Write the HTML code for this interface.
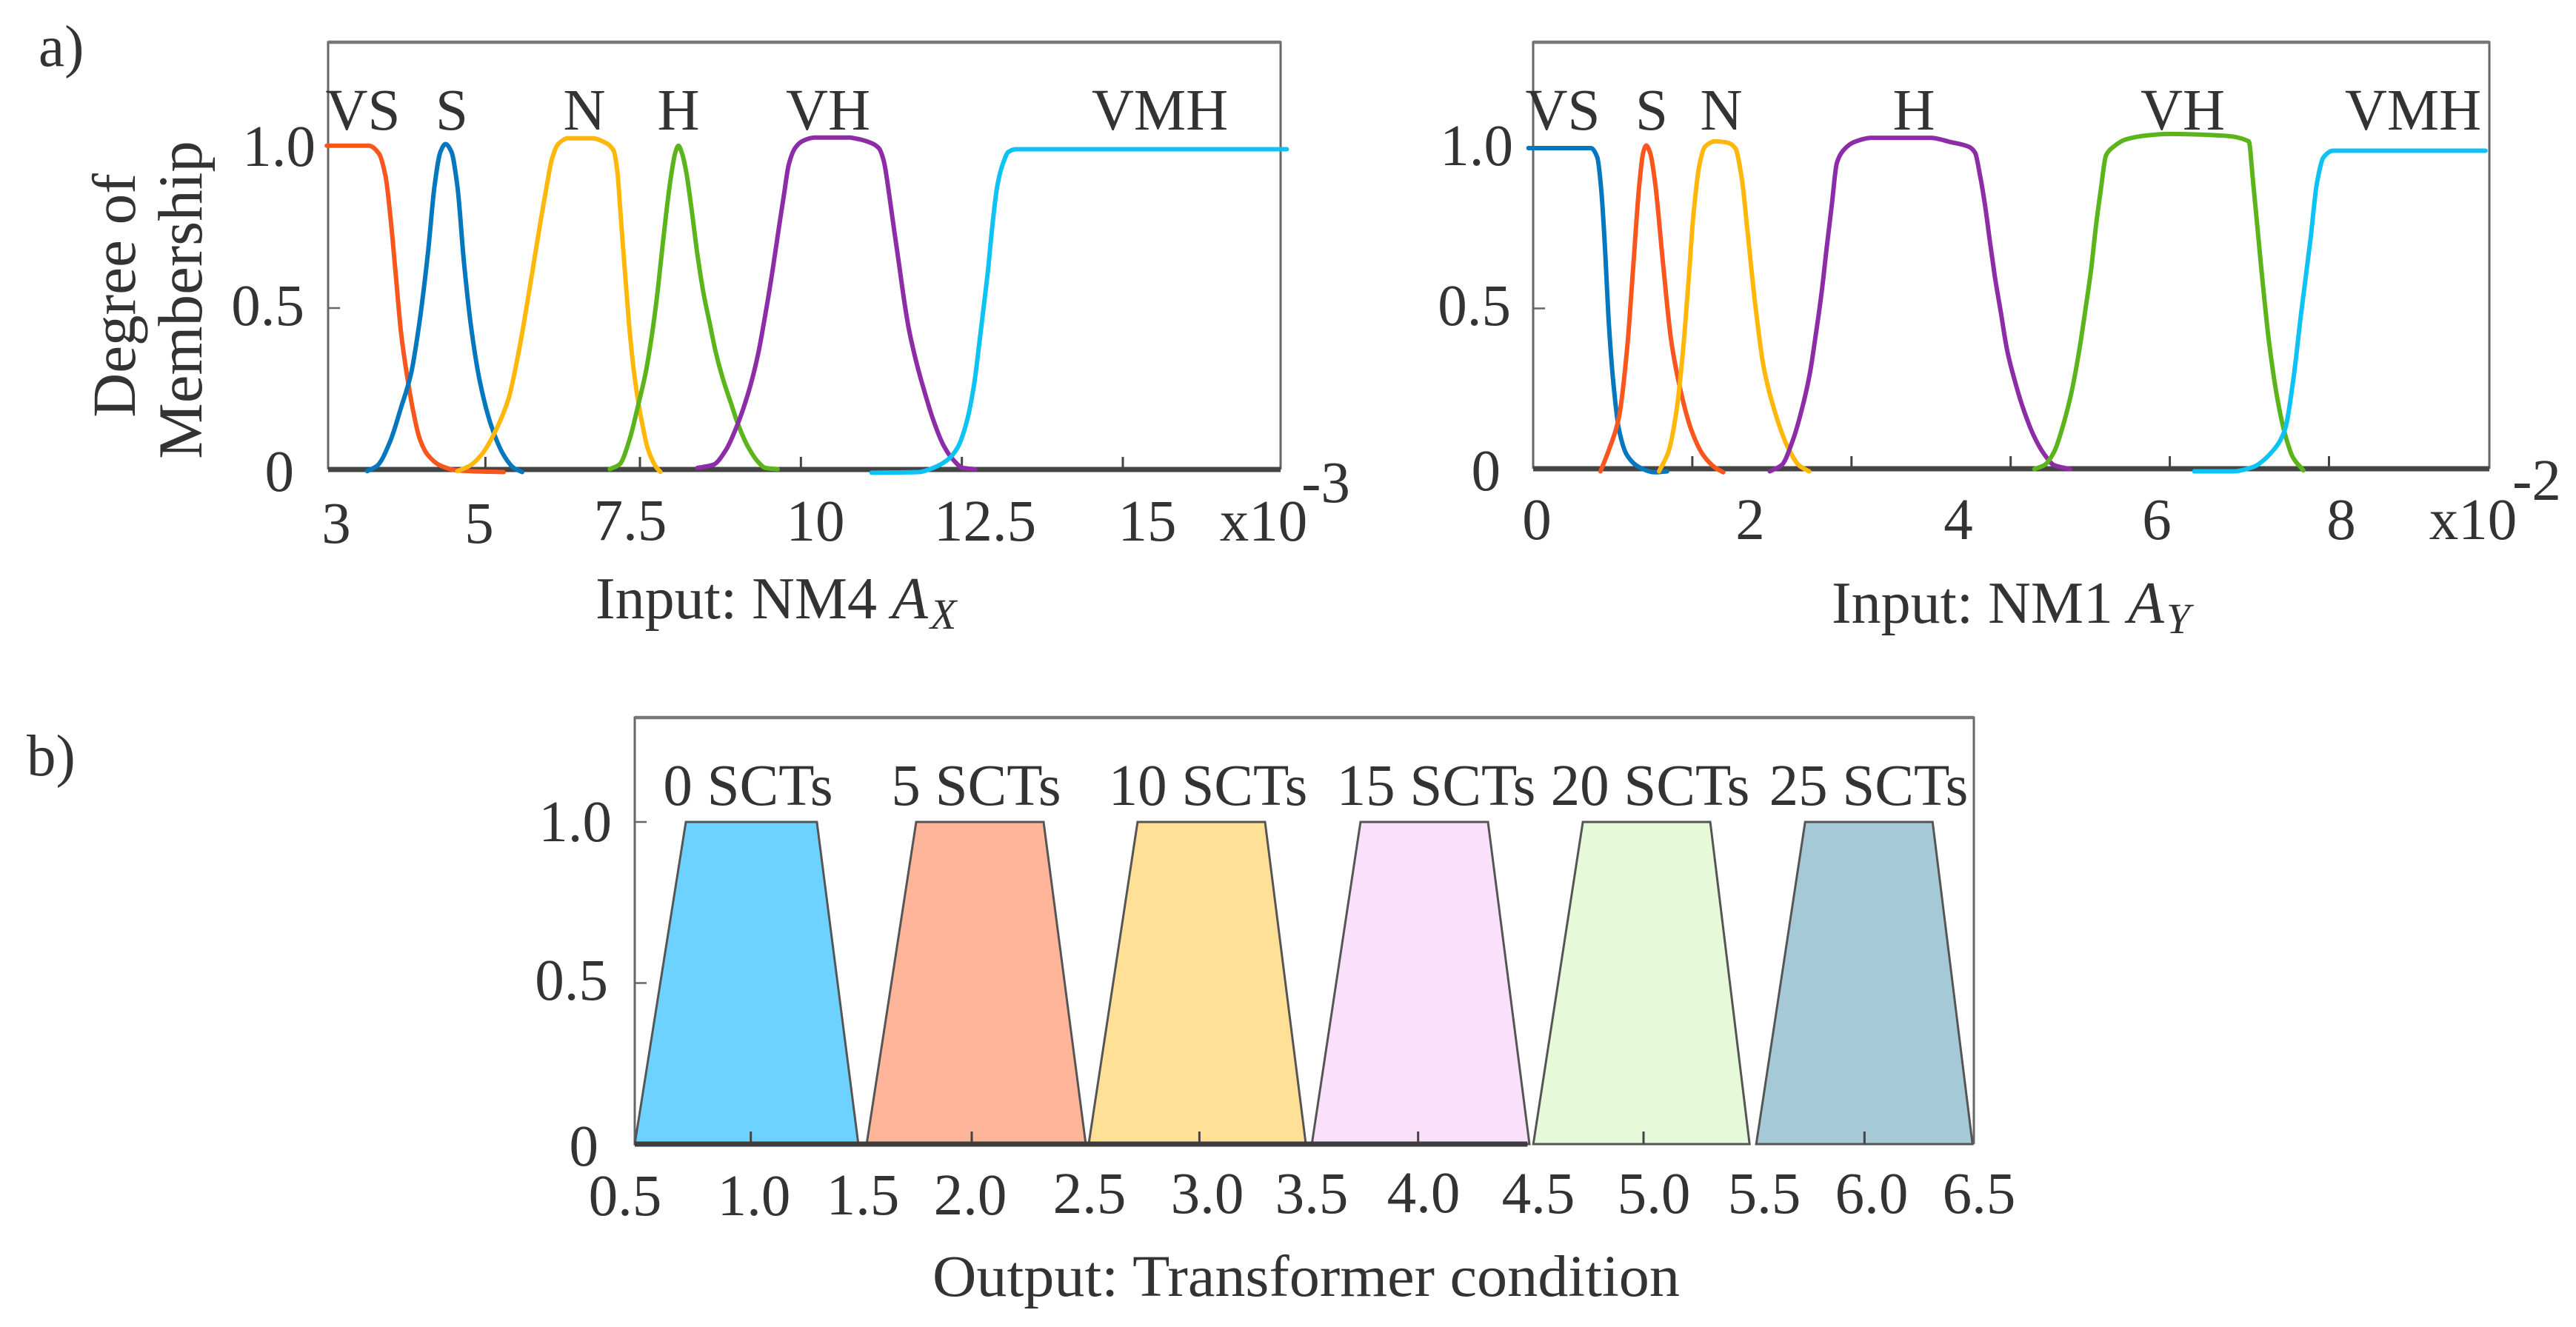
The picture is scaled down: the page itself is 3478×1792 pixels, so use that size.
<!DOCTYPE html>
<html lang="en">
<head>
<meta charset="utf-8">
<title>Fuzzy membership functions</title>
<style>
html,body{margin:0;padding:0;background:#fff;}
svg{display:block;}
text{font-family:"Liberation Serif",serif;fill:#333;font-size:79px;}
.m{text-anchor:middle;}
.e{text-anchor:end;}
</style>
</head>
<body>
<svg id="figure" xmlns="http://www.w3.org/2000/svg" width="3478" height="1792" viewBox="0 0 3478 1792">
<rect x="0" y="0" width="3478" height="1792" fill="#fff"/>

<text x="52" y="89">a)</text>
<text x="36" y="1047">b)</text>

<g id="panel-ax"></g>
<g id="panel-ay"></g>
<g id="panel-out"></g>

<!-- Input A_X text -->
<g>
<text transform="translate(182,399) rotate(-90)" class="m" style="font-size:83px">Degree of</text>
<text transform="translate(272,405) rotate(-90)" class="m" style="font-size:85px">Membership</text>
<text x="490" y="175" class="m">VS</text>
<text x="610" y="175" class="m">S</text>
<text x="789" y="175" class="m">N</text>
<text x="916" y="175" class="m">H</text>
<text x="1118" y="175" class="m">VH</text>
<text x="1566" y="175" class="m">VMH</text>
<text x="426" y="224" class="e">1.0</text>
<text x="411" y="439" class="e">0.5</text>
<text x="397" y="663" class="e">0</text>
<text x="454" y="733" class="m">3</text>
<text x="647" y="733" class="m">5</text>
<text x="851" y="729" class="m">7.5</text>
<text x="1101" y="730" class="m">10</text>
<text x="1330" y="730" class="m">12.5</text>
<text x="1549" y="730" class="m">15</text>
<text x="1706" y="730" class="m">x10</text>
<text x="1790" y="678" class="m">-3</text>
<text x="804" y="835" style="font-size:80px">Input: NM4 <tspan font-style="italic">A</tspan><tspan font-style="italic" dx="3" dy="14" style="font-size:58px">X</tspan></text>
</g>

<!-- Input A_Y text -->
<g>
<text x="2110" y="175" class="m">VS</text>
<text x="2230" y="175" class="m">S</text>
<text x="2324" y="175" class="m">N</text>
<text x="2584" y="175" class="m">H</text>
<text x="2947" y="175" class="m">VH</text>
<text x="3258" y="175" class="m">VMH</text>
<text x="2043" y="223" class="e">1.0</text>
<text x="2040" y="439" class="e">0.5</text>
<text x="2026" y="662" class="e">0</text>
<text x="2075" y="728" class="m">0</text>
<text x="2363" y="728" class="m">2</text>
<text x="2644" y="728" class="m">4</text>
<text x="2912" y="728" class="m">6</text>
<text x="3161" y="728" class="m">8</text>
<text x="3339" y="728" class="m">x10</text>
<text x="3425" y="675" class="m">-2</text>
<text x="2473" y="841" style="font-size:80px">Input: NM1 <tspan font-style="italic">A</tspan><tspan font-style="italic" dx="3" dy="14" style="font-size:58px">Y</tspan></text>
</g>

<!-- Output text -->
<g>
<text x="1010" y="1087" class="m">0 SCTs</text>
<text x="1318" y="1087" class="m">5 SCTs</text>
<text x="1631" y="1087" class="m">10 SCTs</text>
<text x="1939" y="1087" class="m">15 SCTs</text>
<text x="2228" y="1087" class="m">20 SCTs</text>
<text x="2523" y="1087" class="m">25 SCTs</text>
<text x="826" y="1136" class="e">1.0</text>
<text x="821" y="1350" class="e">0.5</text>
<text x="808" y="1574" class="e">0</text>
<text x="844" y="1641" class="m">0.5</text>
<text x="1018" y="1641" class="m">1.0</text>
<text x="1165" y="1640" class="m">1.5</text>
<text x="1310" y="1640" class="m">2.0</text>
<text x="1471" y="1638" class="m">2.5</text>
<text x="1630" y="1638" class="m">3.0</text>
<text x="1771" y="1638" class="m">3.5</text>
<text x="1922" y="1637" class="m">4.0</text>
<text x="2077" y="1638" class="m">4.5</text>
<text x="2233" y="1638" class="m">5.0</text>
<text x="2382" y="1638" class="m">5.5</text>
<text x="2527" y="1638" class="m">6.0</text>
<text x="2672" y="1638" class="m">6.5</text>
<text x="1259" y="1750" textLength="1009" lengthAdjust="spacingAndGlyphs">Output: Transformer condition</text>
</g>
</svg>

<script>
// ---- Input NM4 A_X (x in units of 1e-3, y = degree of membership) ----
const axTicks = [5.1, 7.5, 10, 12.5, 15];
const axVSx = [2.636,3.29,3.447,3.552,3.63,3.709,3.787,3.879,3.97,4.075,4.206,4.402,4.664,5.383];
const axVSy = [1.003,1.003,0.978,0.905,0.772,0.601,0.429,0.296,0.19,0.098,0.045,0.012,-0.003,-0.008];
const axSx = [3.264,3.421,3.617,3.787,3.944,4.075,4.206,4.31,4.402,4.48,4.572,4.664,4.768,4.886,5.017,5.187,5.383,5.54,5.671];
const axSy = [-0.005,0.012,0.085,0.19,0.296,0.455,0.667,0.878,0.984,1.008,0.984,0.878,0.64,0.429,0.27,0.138,0.045,0.005,-0.008];
const axNx = [4.664,4.86,5.056,5.268,5.46,5.613,5.728,5.843,5.958,6.054,6.131,6.227,6.38,6.764,6.936,7.09,7.147,7.205,7.281,7.358,7.435,7.531,7.626,7.761,7.818];
const axNy = [-0.005,0.012,0.05,0.124,0.22,0.36,0.49,0.63,0.77,0.88,0.96,1.007,1.026,1.026,1.015,0.988,0.927,0.774,0.575,0.391,0.261,0.146,0.062,0.005,-0.007];
const axHx = [7.032,7.185,7.339,7.473,7.588,7.684,7.761,7.837,7.914,7.991,8.048,8.098,8.152,8.221,8.298,8.393,8.489,8.585,8.681,8.796,8.911,9.026,9.18,9.333,9.448,9.64];
const axHy = [0.001,0.016,0.093,0.2,0.299,0.414,0.529,0.666,0.804,0.919,0.98,1.003,0.98,0.919,0.812,0.666,0.544,0.452,0.36,0.276,0.207,0.139,0.07,0.024,0.005,0.001];
const axVHx = [8.393,8.643,8.834,9.007,9.18,9.333,9.448,9.563,9.659,9.736,9.812,9.908,10.023,10.215,10.752,10.828,11.058,11.212,11.288,11.365,11.442,11.518,11.595,11.672,11.787,11.902,12.055,12.209,12.362,12.515,12.707];
const axVHy = [0.005,0.015,0.06,0.135,0.235,0.355,0.48,0.62,0.75,0.85,0.945,0.995,1.017,1.028,1.028,1.026,1.014,0.995,0.955,0.86,0.75,0.645,0.535,0.44,0.337,0.253,0.154,0.077,0.031,0.005,0.001];
const axVMHx = [11.097,11.825,12.055,12.285,12.439,12.573,12.688,12.784,12.899,12.976,13.052,13.129,13.225,13.34,17.547];
const axVMHy = [-0.01,-0.008,0.005,0.031,0.07,0.146,0.261,0.414,0.605,0.758,0.881,0.942,0.984,0.992,0.992];

// ---- Input NM1 A_Y (x in units of 1e-2) ----
const ayTicks = [1.6, 3.2, 4.8, 6.4, 8];
const ayVSx = [-0.048,0.581,0.645,0.686,0.726,0.758,0.806,0.863,0.944,1.065,1.226,1.347];
const ayVSy = [1,1,0.971,0.865,0.666,0.467,0.268,0.122,0.042,0.005,-0.011,-0.008];
const aySx = [0.677,0.758,0.863,0.944,1.008,1.065,1.105,1.137,1.177,1.226,1.306,1.387,1.484,1.589,1.71,1.831,1.911];
const aySy = [-0.008,0.056,0.162,0.374,0.639,0.878,0.984,1.008,0.984,0.891,0.639,0.401,0.241,0.122,0.042,0.003,-0.011];
const ayNx = [1.266,1.363,1.444,1.508,1.565,1.613,1.669,1.726,1.831,1.952,2.032,2.097,2.153,2.234,2.315,2.42,2.557,2.678,2.774];
const ayNy = [-0.008,0.056,0.188,0.374,0.599,0.798,0.944,1.004,1.021,1.017,1,0.905,0.745,0.507,0.321,0.188,0.069,0.009,-0.008];
const ayHx = [2.379,2.5,2.606,2.705,2.78,2.842,2.904,2.953,3.003,3.053,3.127,3.227,3.4,3.996,4.195,4.381,4.443,4.492,4.542,4.592,4.641,4.703,4.765,4.84,4.939,5.038,5.138,5.237,5.398];
const ayHy = [-0.008,0.012,0.085,0.19,0.295,0.42,0.56,0.695,0.825,0.954,0.996,1.019,1.032,1.032,1.019,1.004,0.985,0.915,0.823,0.707,0.6,0.484,0.369,0.276,0.176,0.099,0.045,0.011,-0.001];
const ayVHx = [5.038,5.138,5.237,5.336,5.411,5.485,5.56,5.609,5.659,5.709,5.758,5.833,5.957,6.18,6.387,6.871,7.194,7.234,7.315,7.395,7.476,7.557,7.637,7.742];
const ayVHy = [-0.001,0.011,0.053,0.145,0.238,0.361,0.515,0.623,0.761,0.877,0.977,1.004,1.027,1.04,1.044,1.04,1.021,0.905,0.639,0.401,0.228,0.109,0.036,-0.005];
const ayVMHx = [6.645,7.033,7.234,7.436,7.557,7.637,7.718,7.815,7.879,7.944,8.041,9.573];
const ayVMHy = [-0.008,-0.008,0.005,0.056,0.122,0.268,0.48,0.719,0.891,0.971,0.992,0.992];

// ---- Output trapezoids: foot-left, shoulder-left, shoulder-right, foot-right ----
const outTicks = [1.02, 2.01, 3.03, 4.01, 5.02, 6.01];
const outClasses = ['0-scts','5-scts','10-scts','15-scts','20-scts','25-scts'];
const outFootLeft = [0.5,1.539,2.534,3.534,4.526,5.525];
const outShoulderLeft = [0.729,1.761,2.753,3.752,4.748,5.744];
const outShoulderRight = [1.316,2.332,3.324,4.323,5.319,6.315];
const outFootRight = [1.502,2.521,3.507,4.509,5.495,6.494];
const outFills = ['#6dd2ff','#ffb59a','#ffe096','#fae0fa','#e6f9d9','#a6c9d8'];

const COL = {orange:'#f9561e', blue:'#0477bf', yellow:'#ffb809', green:'#5cb41c', purple:'#8c2ca6', cyan:'#0cc3f3'};
const NS = 'http://www.w3.org/2000/svg';

function scale(d0, d1, r0, r1) {
  return function (v) { return r0 + (v - d0) * (r1 - r0) / (d1 - d0); };
}
function line(parent, x1, y1, x2, y2, stroke, w) {
  const el = document.createElementNS(NS, 'line');
  el.setAttribute('x1', x1);
  el.setAttribute('y1', y1);
  el.setAttribute('x2', x2);
  el.setAttribute('y2', y2);
  el.setAttribute('stroke', stroke);
  el.setAttribute('stroke-width', w);
  parent.appendChild(el);
  return el;
}
// Monotone cubic (Fritsch-Carlson) through the points: no overshoot at uneven spacing.
function smoothPath(pts) {
  const n = pts.length, dx = [], s = [], t = [];
  for (let i = 0; i < n - 1; i++) {
    dx.push(pts[i + 1][0] - pts[i][0]);
    s.push((pts[i + 1][1] - pts[i][1]) / dx[i]);
  }
  t.push(s[0]);
  for (let i = 1; i < n - 1; i++) {
    if (s[i - 1] * s[i] <= 0) { t.push(0); continue; }
    const w1 = 2 * dx[i] + dx[i - 1], w2 = dx[i] + 2 * dx[i - 1];
    t.push((w1 + w2) / (w1 / s[i - 1] + w2 / s[i]));
  }
  t.push(s[n - 2]);
  let d = 'M' + pts[0][0].toFixed(1) + ' ' + pts[0][1].toFixed(1);
  for (let i = 0; i < n - 1; i++) {
    const h = dx[i] / 3;
    d += 'C' + (pts[i][0] + h).toFixed(1) + ' ' + (pts[i][1] + t[i] * h).toFixed(1) + ' ' +
         (pts[i + 1][0] - h).toFixed(1) + ' ' + (pts[i + 1][1] - t[i + 1] * h).toFixed(1) + ' ' +
         pts[i + 1][0].toFixed(1) + ' ' + pts[i + 1][1].toFixed(1);
  }
  return d;
}
function drawFrame(g, left, right, top, bottom, y) {
  const frame = document.createElementNS(NS, 'path');
  frame.setAttribute('d', 'M' + left + ' ' + bottom + 'V' + top + 'H' + right + 'V' + bottom);
  frame.setAttribute('fill', 'none');
  frame.setAttribute('stroke', '#666');
  frame.setAttribute('stroke-width', '3');
  
  
  g.appendChild(frame);
  const topEdge = line(g, left, top, right, top, '#777', 4.5);
  
  
  [1, 0.5].forEach(function (v) {
    const t = line(g, left, y(v), left + 16, y(v), '#666', 2.5);
    
    
  });
}
function drawXTicks(g, ticks, x, bottom) {
  ticks.forEach(function (v) {
    const t = line(g, x(v), bottom - 17, x(v), bottom, '#444', 3);
    
    
  });
}
function drawCurve(g, name, xs, ys, color, x, y) {
  const p = document.createElementNS(NS, 'path');
  p.setAttribute('d', smoothPath(xs.map(function (v, i) { return [x(v), y(ys[i])]; })));
  p.setAttribute('fill', 'none');
  p.setAttribute('stroke', color);
  p.setAttribute('stroke-width', '6');
  p.setAttribute('stroke-linecap', 'round');
  p.setAttribute('stroke-linejoin', 'round');
  
  
  g.appendChild(p);
}
function drawBaseline(g, x0, x1, yy, color, w) {
  const b = line(g, x0, yy, x1, yy, color, w);
  
  
}

// Panel: A_X
(function () {
  const g = document.getElementById('panel-ax');
  const x = scale(7.5, 15, 864, 1516);
  const y = scale(0, 1, 634, 198);
  drawFrame(g, 443, 1729, 57, 634, y);
  drawXTicks(g, axTicks, x, 634);
  drawBaseline(g, 443, 1729, 634, '#444', 7);
  drawCurve(g, 'vs', axVSx, axVSy, COL.orange, x, y);
  drawCurve(g, 's', axSx, axSy, COL.blue, x, y);
  drawCurve(g, 'n', axNx, axNy, COL.yellow, x, y);
  drawCurve(g, 'h', axHx, axHy, COL.green, x, y);
  drawCurve(g, 'vh', axVHx, axVHy, COL.purple, x, y);
  drawCurve(g, 'vmh', axVMHx, axVMHy, COL.cyan, x, y);
})();

// Panel: A_Y
(function () {
  const g = document.getElementById('panel-ay');
  const x = scale(0, 8, 2070, 3144.5);
  const y = scale(0, 1, 633, 200);
  drawFrame(g, 2070, 3361, 57, 633, y);
  drawXTicks(g, ayTicks, x, 633);
  drawBaseline(g, 2070, 3361, 633, '#444', 7);
  drawCurve(g, 'vs', ayVSx, ayVSy, COL.blue, x, y);
  drawCurve(g, 's', aySx, aySy, COL.orange, x, y);
  drawCurve(g, 'n', ayNx, ayNy, COL.yellow, x, y);
  drawCurve(g, 'h', ayHx, ayHy, COL.purple, x, y);
  drawCurve(g, 'vh', ayVHx, ayVHy, COL.green, x, y);
  drawCurve(g, 'vmh', ayVMHx, ayVMHy, COL.cyan, x, y);
})();

// Panel: Output
(function () {
  const g = document.getElementById('panel-out');
  const x = scale(0.5, 6.5, 857, 2665);
  const y = scale(0, 1, 1545, 1110);
  drawFrame(g, 857, 2665, 969, 1545, y);
  outClasses.forEach(function (name, i) {
    const poly = document.createElementNS(NS, 'polygon');
    const pts = [[outFootLeft[i], 0], [outShoulderLeft[i], 1], [outShoulderRight[i], 1], [outFootRight[i], 0]];
    poly.setAttribute('points', pts.map(function (p) { return x(p[0]).toFixed(1) + ',' + y(p[1]).toFixed(1); }).join(' '));
    poly.setAttribute('fill', outFills[i]);
    poly.setAttribute('stroke', '#555');
    poly.setAttribute('stroke-width', '3');
    
    
    g.appendChild(poly);
  });
  drawXTicks(g, outTicks, x, 1545);
  drawBaseline(g, x(0.5), x(4.5), 1545, '#3d3d3d', 7);
})();
</script>
</body>
</html>
